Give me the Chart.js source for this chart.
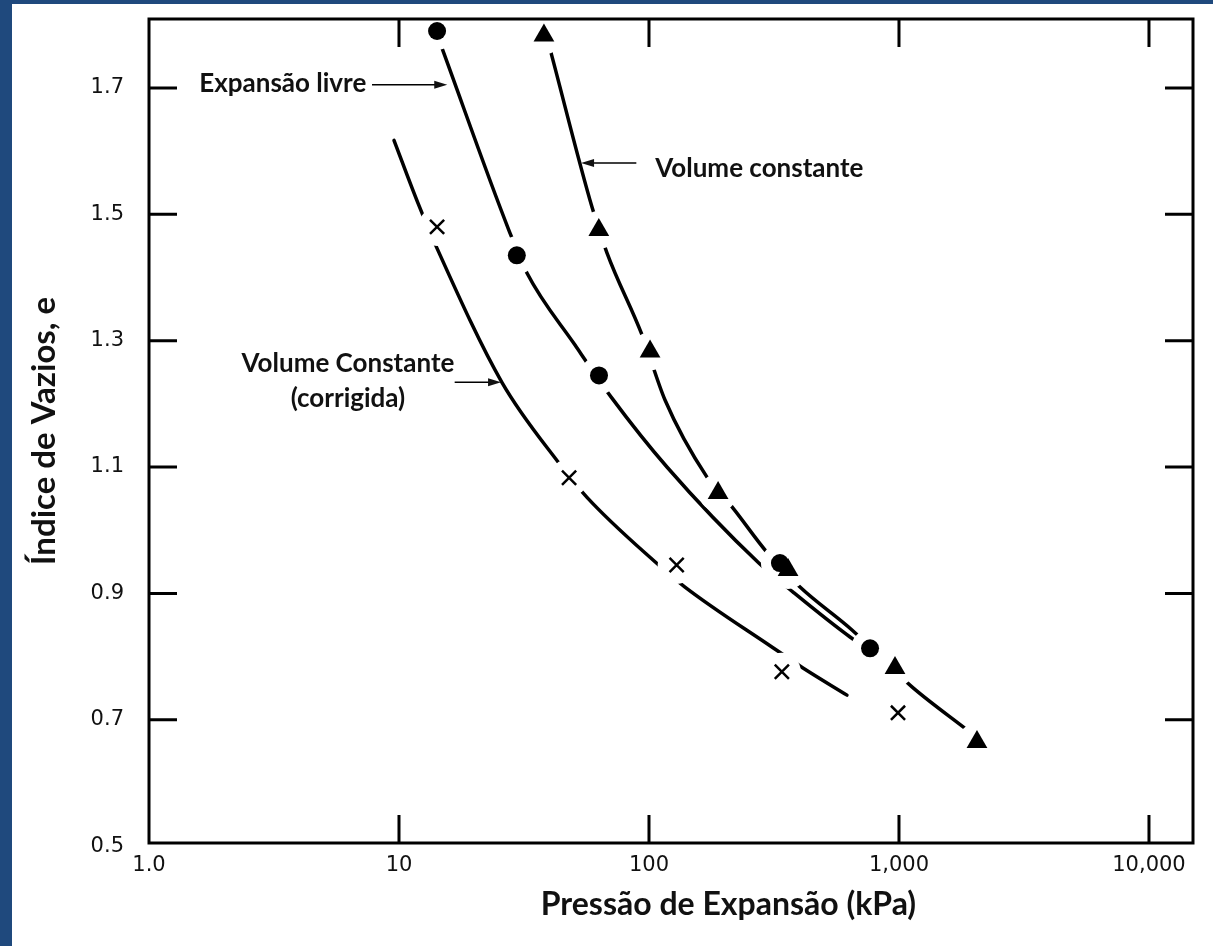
<!DOCTYPE html>
<html>
<head>
<meta charset="utf-8">
<script src="https://cdn.jsdelivr.net/npm/chart.js@4.4.0/dist/chart.umd.min.js"></script>
<style>
html, body { margin: 0; padding: 0; background: #1f497d; }
#wrap { position: absolute; left: 12px; top: 4px; width: 1201px; height: 942px; background: #fff; }
</style>
</head>
<body>
<div id="wrap"><canvas id="swellChart" width="1201" height="942"></canvas></div>
<script>
const swellChart = document.getElementById("swellChart");

// axis ticks
const xTicks = [1, 10, 100, 1000, 10000];
const xTickLabels = ['1.0', '10', '100', '1,000', '10,000'];
const yTicks = [0.5, 0.7, 0.9, 1.1, 1.3, 1.5, 1.7];
const yTickLabels = ['0.5', '0.7', '0.9', '1.1', '1.3', '1.5', '1.7'];

// measured points (pressure kPa, void ratio)
const livreP = [14.2, 29.6, 63.1, 334, 766];
const livreE = [1.790, 1.435, 1.245, 0.948, 0.813];
const constP = [38, 63, 101, 189, 360, 964, 2051];
const constE = [1.783, 1.475, 1.283, 1.059, 0.937, 0.782, 0.665];
const corrP = [14.2, 47.9, 129, 340, 991];
const corrE = [1.480, 1.083, 0.945, 0.776, 0.711];

// fitted curves
const livreCurveP = [14.7, 27.5, 32.5, 50.6, 71.1, 118, 275, 377, 637, 766];
const livreCurveE = [1.768, 1.475, 1.407, 1.293, 1.209, 1.100, 0.948, 0.902, 0.831, 0.810];
const constCurveP = [40.6, 59.2, 67.9, 93.8, 115.9, 170.6, 216.8, 296.5, 401.8, 648.6, 1127, 1871];
const constCurveE = [1.755, 1.511, 1.439, 1.309, 1.206, 1.084, 1.035, 0.965, 0.910, 0.842, 0.752, 0.684];
const corrCurveP = [9.55, 11.9, 14.2, 25.8, 43.3, 56.5, 105.7, 139.3, 313.3, 413, 619.4];
const corrCurveE = [1.617, 1.518, 1.446, 1.234, 1.108, 1.052, 0.950, 0.910, 0.814, 0.782, 0.739];

function pts(xs, ys) {
    return xs.map((v, i) => ({ x: v, y: ys[i] }));
}

function markerSet(xs, ys, style, r) {
    return {
        data: pts(xs, ys),
        showLine: false,
        pointStyle: style,
        pointRadius: r,
        pointBackgroundColor: '#000',
        pointBorderColor: '#000',
        pointBorderWidth: style === 'crossRot' ? 2.5 : 0,
        order: 0
    };
}

// white discs under the markers: they cut the curves the way the drawing does
function haloSet(xs, ys) {
    return {
        data: pts(xs, ys),
        showLine: false,
        pointStyle: 'circle',
        pointRadius: 19,
        pointBackgroundColor: '#fff',
        pointBorderWidth: 0,
        order: 1
    };
}

function curveSet(xs, ys) {
    return {
        data: pts(xs, ys),
        showLine: true,
        borderColor: '#000',
        borderWidth: 3.5,
        borderCapStyle: 'round',
        cubicInterpolationMode: 'monotone',
        pointRadius: 0,
        order: 2
    };
}

const data = {
    datasets: [
        markerSet(livreP, livreE, 'circle', 9),
        markerSet(constP, constE, 'triangle', 12),
        markerSet(corrP, corrE, 'crossRot', 10),
        haloSet(livreP, livreE),
        haloSet(constP, constE),
        haloSet(corrP, corrE),
        curveSet(livreCurveP, livreCurveE),
        curveSet(constCurveP, constCurveE),
        curveSet(corrCurveP, corrCurveE)
    ]
};

// labels and arrows inside the plot, in data units
const notes = [
    { lines: ['Expansão livre'], x: 7.4, y: 1.707, align: 'right' },
    { lines: ['Volume constante'], x: 106, y: 1.573, align: 'left' },
    { lines: ['Volume Constante', '(corrigida)'], x: 6.25, y: 1.263, align: 'center' }
];
const arrows = [
    { from: [7.8, 1.705], to: [15.6, 1.705] },
    { from: [89, 1.581], to: [53.5, 1.581] },
    { from: [16.7, 1.234], to: [25.6, 1.234] }
];

const annotatePlugin = {
    id: 'annotate',
    afterDatasetsDraw(chart) {
        const { ctx, chartArea: a, scales: { x, y } } = chart;
        ctx.save();
        // frame
        ctx.strokeStyle = '#000';
        ctx.lineWidth = 3;
        ctx.strokeRect(a.left, a.top, a.right - a.left, a.bottom - a.top);
        // inward ticks on all four sides
        const t = 28;
        ctx.beginPath();
        xTicks.slice(1).forEach(v => {
            const px = x.getPixelForValue(v);
            ctx.moveTo(px, a.bottom); ctx.lineTo(px, a.bottom - t);
            ctx.moveTo(px, a.top); ctx.lineTo(px, a.top + t);
        });
        yTicks.slice(1).forEach(v => {
            const py = y.getPixelForValue(v);
            ctx.moveTo(a.left, py); ctx.lineTo(a.left + t, py);
            ctx.moveTo(a.right, py); ctx.lineTo(a.right - t, py);
        });
        ctx.stroke();

        // notes
        ctx.fillStyle = '#111';
        ctx.font = 'bold 26px Lato';
        ctx.textBaseline = 'middle';
        notes.forEach(n => {
            ctx.textAlign = n.align;
            const px = x.getPixelForValue(n.x);
            const py = y.getPixelForValue(n.y);
            n.lines.forEach((s, i) => ctx.fillText(s, px, py + i * 35));
        });

        // arrows
        ctx.lineWidth = 1.5;
        arrows.forEach(ar => {
            const x0 = x.getPixelForValue(ar.from[0]), y0 = y.getPixelForValue(ar.from[1]);
            const x1 = x.getPixelForValue(ar.to[0]), y1 = y.getPixelForValue(ar.to[1]);
            const dir = Math.sign(x1 - x0);
            ctx.beginPath();
            ctx.moveTo(x0, y0); ctx.lineTo(x1 - dir * 8, y1);
            ctx.stroke();
            ctx.beginPath();
            ctx.moveTo(x1, y1);
            ctx.lineTo(x1 - dir * 13, y1 - 4);
            ctx.lineTo(x1 - dir * 13, y1 + 4);
            ctx.closePath();
            ctx.fill();
        });

        // x axis title sits a bit right of the plot centre in the drawing
        ctx.font = 'bold 32px Lato';
        ctx.textAlign = 'center';
        ctx.fillText('Pressão de Expansão (kPa)', a.left + (a.right - a.left) * 0.555, 901);
        ctx.restore();
    }
};

const tickFont = { family: 'DejaVu Sans', size: 21 };

const scales = {
    x: {
        type: 'logarithmic',
        min: 1,
        max: 15000,
        afterBuildTicks(s) { s.ticks = xTicks.map(v => ({ value: v })); },
        afterFit(s) { s.height = 103; s.paddingLeft = 0; s.paddingRight = 0; },
        ticks: {
            autoSkip: false,
            maxRotation: 0,
            padding: 10,
            color: '#111',
            font: tickFont,
            callback(v) {
                const i = xTicks.indexOf(v);
                return i >= 0 ? xTickLabels[i] : '';
            }
        },
        grid: { display: false, drawTicks: false },
        border: { display: false }
    },
    y: {
        type: 'linear',
        min: 0.505,
        max: 1.809,
        afterBuildTicks(s) { s.ticks = yTicks.map(v => ({ value: v })); },
        afterFit(s) { s.width = 137; s.paddingTop = 0; s.paddingBottom = 0; },
        ticks: {
            autoSkip: false,
            padding: 25,
            color: '#111',
            font: tickFont,
            callback(v) {
                const i = yTicks.findIndex(t => Math.abs(t - v) < 1e-6);
                return i >= 0 ? yTickLabels[i] : '';
            }
        },
        grid: { display: false, drawTicks: false },
        border: { display: false },
        title: {
            display: true,
            text: 'Índice de Vazios, e',
            color: '#111',
            font: { family: 'Lato', size: 33, weight: 'bold' },
            padding: { top: 13, bottom: 0 }
        }
    }
};

const chart = new Chart(swellChart, {
    type: 'scatter',
    data,
    options: {
        responsive: false,
        animation: false,
        events: [],
        layout: { autoPadding: false, padding: { top: 15, right: 20, left: 0, bottom: 0 } },
        scales: scales,
        plugins: {
            legend: { display: false },
            tooltip: { enabled: false }
        }
    },
    plugins: [annotatePlugin]
});
</script>
</body>
</html>
